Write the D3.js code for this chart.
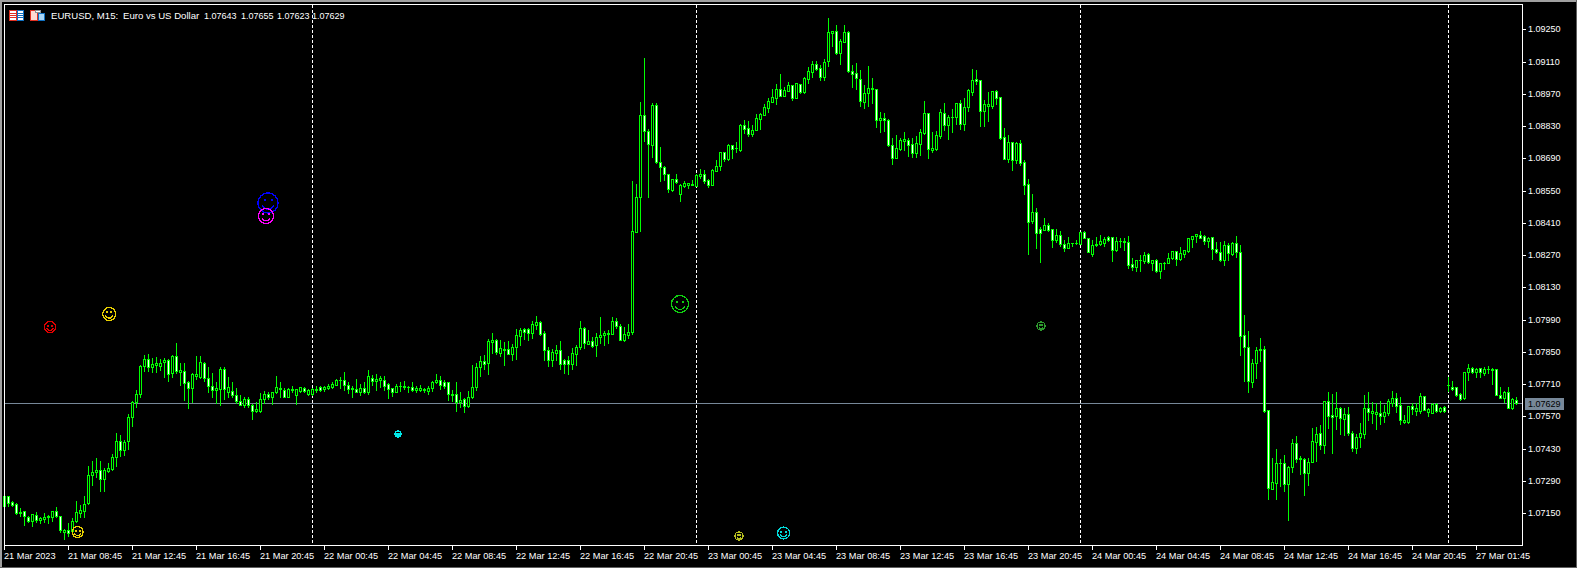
<!DOCTYPE html>
<html>
<head>
<meta charset="utf-8">
<script src="https://cdn.jsdelivr.net/npm/d3@7/dist/d3.min.js"></script>
<style>
html, body { margin: 0; padding: 0; background: #000; overflow: hidden; }
svg { display: block; }
text { font-family: "Liberation Sans", sans-serif; font-size: 9.2px; fill: #fff; }
</style>
</head>
<body>
<div id="chart"></div>
<script>
// EURUSD M15 candles, bar 0 is 21 Mar 2023 04:45
const opens = [
1.07182,1.07225,1.07199,1.07191,1.07151,1.07160,1.07134,1.07116,1.07143,1.07121,
1.07125,1.07134,1.07134,1.07160,1.07138,1.07069,1.07077,1.07073,1.07116,1.07151,
1.07160,1.07195,1.07316,1.07329,1.07338,1.07299,1.07333,1.07342,1.07394,1.07464,
1.07425,1.07464,1.07568,1.07632,1.07667,1.07789,1.07819,1.07785,1.07793,1.07789,
1.07806,1.07815,1.07759,1.07832,1.07763,1.07767,1.07720,1.07694,1.07746,1.07741,
1.07802,1.07737,1.07702,1.07685,1.07689,1.07776,1.07676,1.07680,1.07663,1.07637,
1.07619,1.07646,1.07619,1.07594,1.07594,1.07646,1.07667,1.07654,1.07676,1.07694,
1.07685,1.07654,1.07685,1.07663,1.07680,1.07694,1.07667,1.07667,1.07685,1.07698,
1.07689,1.07694,1.07698,1.07707,1.07728,1.07728,1.07707,1.07689,1.07689,1.07676,
1.07694,1.07676,1.07737,1.07724,1.07728,1.07728,1.07711,1.07694,1.07676,1.07702,
1.07698,1.07698,1.07698,1.07685,1.07685,1.07685,1.07680,1.07694,1.07720,1.07728,
1.07720,1.07720,1.07663,1.07667,1.07632,1.07646,1.07615,1.07654,1.07698,1.07785,
1.07811,1.07802,1.07893,1.07902,1.07845,1.07858,1.07863,1.07841,1.07871,1.07919,
1.07949,1.07949,1.07932,1.07967,1.07980,1.07932,1.07858,1.07815,1.07845,1.07858,
1.07815,1.07815,1.07798,1.07841,1.07871,1.07954,1.07884,1.07897,1.07880,1.07915,
1.07923,1.07928,1.07928,1.07984,1.07963,1.07902,1.07923,1.07936,1.08370,1.08522,
1.08878,1.08809,1.08748,1.08921,1.08674,1.08652,1.08622,1.08553,1.08600,1.08535,
1.08570,1.08574,1.08574,1.08570,1.08613,1.08622,1.08596,1.08574,1.08635,1.08657,
1.08717,1.08687,1.08748,1.08735,1.08726,1.08835,1.08822,1.08796,1.08813,1.08861,
1.08878,1.08908,1.08934,1.08952,1.08991,1.08960,1.08982,1.09008,1.08952,1.09013,
1.08978,1.09034,1.09065,1.09099,1.09082,1.09043,1.09112,1.09234,1.09243,1.09147,
1.09195,1.09238,1.09069,1.09060,1.09034,1.08934,1.08974,1.08995,1.08991,1.08856,
1.08865,1.08856,1.08748,1.08691,1.08730,1.08765,1.08770,1.08752,1.08713,1.08752,
1.08800,1.08887,1.08726,1.08730,1.08787,1.08887,1.08835,1.08869,1.08869,1.08930,
1.08839,1.08913,1.08978,1.09034,1.09030,1.08895,1.08917,1.08917,1.08982,1.08956,
1.08782,1.08687,1.08761,1.08683,1.08757,1.08674,1.08579,1.08418,1.08457,1.08383,
1.08379,1.08401,1.08383,1.08336,1.08357,1.08318,1.08301,1.08323,1.08323,1.08318,
1.08370,1.08344,1.08275,1.08314,1.08318,1.08323,1.08349,1.08349,1.08292,1.08331,
1.08331,1.08327,1.08232,1.08218,1.08249,1.08245,1.08275,1.08236,1.08249,1.08201,
1.08236,1.08236,1.08258,1.08288,1.08253,1.08275,1.08288,1.08340,1.08353,1.08357,
1.08353,1.08331,1.08349,1.08297,1.08284,1.08249,1.08314,1.08275,1.08323,1.08284,
1.07923,1.07871,1.07720,1.07802,1.07858,1.07863,1.07598,1.07255,1.07281,1.07368,
1.07368,1.07277,1.07351,1.07455,1.07390,1.07385,1.07325,1.07372,1.07459,1.07498,
1.07446,1.07637,1.07576,1.07572,1.07607,1.07559,1.07581,1.07498,1.07433,1.07481,
1.07494,1.07607,1.07585,1.07581,1.07585,1.07572,1.07585,1.07628,1.07650,1.07619,
1.07546,1.07546,1.07615,1.07594,1.07594,1.07659,1.07589,1.07585,1.07624,1.07594,
1.07611,1.07707,1.07698,1.07698,1.07667,1.07650,1.07763,1.07780,1.07763,1.07780,
1.07759,1.07776,1.07772,1.07776,1.07663,1.07650,1.07676,1.07607,1.07643];

const highs = [
1.07225,1.07225,1.07204,1.07195,1.07173,1.07160,1.07138,1.07147,1.07156,1.07134,
1.07151,1.07143,1.07160,1.07177,1.07138,1.07082,1.07108,1.07130,1.07204,1.07186,
1.07225,1.07355,1.07377,1.07390,1.07377,1.07346,1.07368,1.07407,1.07498,1.07490,
1.07468,1.07581,1.07637,1.07685,1.07793,1.07836,1.07841,1.07824,1.07828,1.07819,
1.07824,1.07819,1.07836,1.07889,1.07802,1.07802,1.07724,1.07759,1.07832,1.07832,
1.07806,1.07785,1.07759,1.07720,1.07785,1.07785,1.07741,1.07720,1.07694,1.07663,
1.07654,1.07654,1.07624,1.07632,1.07672,1.07680,1.07676,1.07676,1.07746,1.07720,
1.07694,1.07694,1.07702,1.07689,1.07698,1.07698,1.07689,1.07694,1.07702,1.07702,
1.07702,1.07711,1.07720,1.07733,1.07741,1.07763,1.07720,1.07702,1.07733,1.07711,
1.07720,1.07772,1.07750,1.07754,1.07746,1.07746,1.07715,1.07694,1.07711,1.07720,
1.07724,1.07702,1.07720,1.07702,1.07707,1.07694,1.07702,1.07724,1.07754,1.07746,
1.07728,1.07720,1.07685,1.07720,1.07676,1.07650,1.07680,1.07793,1.07802,1.07832,
1.07836,1.07906,1.07932,1.07906,1.07902,1.07893,1.07897,1.07884,1.07949,1.07954,
1.07954,1.07954,1.07984,1.08006,1.07984,1.07941,1.07871,1.07863,1.07880,1.07897,
1.07819,1.07832,1.07867,1.07880,1.07984,1.07958,1.07945,1.07915,1.07932,1.08002,
1.07941,1.07945,1.08002,1.07997,1.07971,1.07958,1.07971,1.08592,1.08579,1.08934,
1.09125,1.08817,1.08930,1.08930,1.08739,1.08657,1.08622,1.08600,1.08622,1.08579,
1.08592,1.08583,1.08596,1.08622,1.08644,1.08639,1.08600,1.08644,1.08683,1.08717,
1.08717,1.08752,1.08748,1.08761,1.08839,1.08856,1.08852,1.08835,1.08882,1.08887,
1.08926,1.08952,1.08991,1.09013,1.09056,1.09000,1.09021,1.09008,1.09017,1.09013,
1.09043,1.09086,1.09112,1.09112,1.09095,1.09121,1.09299,1.09243,1.09269,1.09208,
1.09269,1.09243,1.09095,1.09104,1.09073,1.09008,1.09091,1.09039,1.08991,1.08891,
1.08887,1.08861,1.08778,1.08791,1.08778,1.08804,1.08778,1.08778,1.08787,1.08817,
1.08939,1.08887,1.08804,1.08809,1.08904,1.08930,1.08878,1.08904,1.08930,1.08943,
1.08952,1.08991,1.09078,1.09073,1.09030,1.08943,1.08978,1.08982,1.08987,1.08956,
1.08822,1.08791,1.08761,1.08761,1.08770,1.08683,1.08600,1.08535,1.08474,1.08392,
1.08431,1.08409,1.08383,1.08383,1.08375,1.08336,1.08349,1.08323,1.08336,1.08370,
1.08375,1.08344,1.08336,1.08349,1.08357,1.08349,1.08353,1.08349,1.08349,1.08344,
1.08344,1.08353,1.08258,1.08249,1.08271,1.08284,1.08279,1.08249,1.08253,1.08236,
1.08240,1.08279,1.08288,1.08288,1.08305,1.08292,1.08344,1.08353,1.08362,1.08375,
1.08357,1.08349,1.08349,1.08327,1.08327,1.08331,1.08323,1.08327,1.08353,1.08314,
1.08010,1.07941,1.07819,1.07871,1.07910,1.07876,1.07598,1.07390,1.07429,1.07385,
1.07403,1.07355,1.07472,1.07485,1.07399,1.07390,1.07390,1.07520,1.07524,1.07533,
1.07637,1.07676,1.07667,1.07676,1.07611,1.07607,1.07611,1.07507,1.07494,1.07542,
1.07663,1.07676,1.07632,1.07628,1.07637,1.07619,1.07646,1.07680,1.07672,1.07654,
1.07576,1.07615,1.07628,1.07628,1.07672,1.07659,1.07607,1.07628,1.07628,1.07611,
1.07615,1.07741,1.07724,1.07698,1.07672,1.07763,1.07798,1.07785,1.07780,1.07780,
1.07785,1.07789,1.07780,1.07776,1.07698,1.07680,1.07698,1.07650,1.07655];

const lows = [
1.07182,1.07182,1.07182,1.07147,1.07138,1.07099,1.07112,1.07095,1.07112,1.07108,
1.07112,1.07108,1.07116,1.07134,1.07069,1.07038,1.07051,1.07064,1.07112,1.07134,
1.07134,1.07191,1.07273,1.07307,1.07247,1.07247,1.07329,1.07338,1.07355,1.07399,
1.07403,1.07429,1.07529,1.07611,1.07654,1.07767,1.07767,1.07763,1.07763,1.07772,
1.07741,1.07724,1.07741,1.07759,1.07707,1.07641,1.07607,1.07632,1.07733,1.07737,
1.07724,1.07676,1.07654,1.07628,1.07619,1.07646,1.07654,1.07654,1.07628,1.07619,
1.07611,1.07611,1.07559,1.07589,1.07589,1.07628,1.07646,1.07624,1.07672,1.07654,
1.07654,1.07654,1.07676,1.07624,1.07676,1.07676,1.07663,1.07663,1.07676,1.07680,
1.07680,1.07689,1.07694,1.07707,1.07694,1.07685,1.07672,1.07654,1.07676,1.07663,
1.07672,1.07667,1.07707,1.07685,1.07698,1.07685,1.07650,1.07659,1.07676,1.07680,
1.07689,1.07676,1.07680,1.07676,1.07680,1.07676,1.07667,1.07680,1.07715,1.07689,
1.07694,1.07641,1.07637,1.07594,1.07611,1.07589,1.07611,1.07650,1.07685,1.07746,
1.07776,1.07754,1.07845,1.07841,1.07832,1.07793,1.07841,1.07815,1.07819,1.07880,
1.07906,1.07902,1.07910,1.07949,1.07923,1.07815,1.07789,1.07789,1.07815,1.07776,
1.07759,1.07754,1.07776,1.07793,1.07863,1.07867,1.07884,1.07871,1.07832,1.07889,
1.07880,1.07889,1.07928,1.07954,1.07902,1.07897,1.07910,1.07928,1.08370,1.08375,
1.08765,1.08522,1.08696,1.08670,1.08592,1.08596,1.08544,1.08548,1.08583,1.08505,
1.08566,1.08561,1.08574,1.08570,1.08605,1.08583,1.08566,1.08574,1.08635,1.08639,
1.08678,1.08683,1.08691,1.08717,1.08722,1.08800,1.08787,1.08787,1.08813,1.08817,
1.08878,1.08891,1.08934,1.08926,1.08960,1.08960,1.08982,1.08943,1.08952,1.08974,
1.08974,1.09017,1.09043,1.09073,1.09030,1.09030,1.09091,1.09177,1.09143,1.09099,
1.09195,1.09065,1.09000,1.08991,1.08917,1.08908,1.08917,1.08930,1.08826,1.08804,
1.08809,1.08743,1.08665,1.08691,1.08726,1.08726,1.08700,1.08696,1.08696,1.08704,
1.08796,1.08691,1.08717,1.08726,1.08778,1.08813,1.08774,1.08804,1.08839,1.08817,
1.08813,1.08895,1.08965,1.09013,1.08830,1.08830,1.08852,1.08908,1.08926,1.08774,
1.08687,1.08674,1.08639,1.08670,1.08661,1.08535,1.08275,1.08409,1.08301,1.08240,
1.08379,1.08375,1.08305,1.08327,1.08310,1.08288,1.08301,1.08310,1.08318,1.08318,
1.08344,1.08284,1.08266,1.08310,1.08314,1.08310,1.08331,1.08245,1.08288,1.08305,
1.08292,1.08214,1.08205,1.08201,1.08201,1.08236,1.08236,1.08205,1.08197,1.08171,
1.08210,1.08236,1.08253,1.08227,1.08249,1.08262,1.08284,1.08305,1.08327,1.08344,
1.08318,1.08305,1.08253,1.08279,1.08245,1.08227,1.08249,1.08271,1.08262,1.07836,
1.07724,1.07676,1.07698,1.07737,1.07811,1.07589,1.07212,1.07255,1.07212,1.07268,
1.07247,1.07121,1.07329,1.07372,1.07320,1.07229,1.07273,1.07372,1.07377,1.07429,
1.07412,1.07520,1.07412,1.07516,1.07494,1.07490,1.07490,1.07420,1.07412,1.07437,
1.07476,1.07555,1.07542,1.07516,1.07537,1.07546,1.07576,1.07615,1.07589,1.07537,
1.07542,1.07542,1.07581,1.07576,1.07585,1.07598,1.07572,1.07585,1.07589,1.07589,
1.07589,1.07680,1.07685,1.07659,1.07641,1.07646,1.07728,1.07759,1.07741,1.07741,
1.07750,1.07759,1.07711,1.07663,1.07650,1.07632,1.07607,1.07602,1.07623];

const closes = [
1.07225,1.07195,1.07186,1.07151,1.07156,1.07138,1.07116,1.07147,1.07121,1.07130,
1.07134,1.07138,1.07160,1.07138,1.07077,1.07077,1.07064,1.07116,1.07156,1.07164,
1.07191,1.07316,1.07329,1.07338,1.07299,1.07338,1.07346,1.07394,1.07464,1.07425,
1.07459,1.07568,1.07632,1.07667,1.07789,1.07819,1.07785,1.07798,1.07802,1.07802,
1.07815,1.07754,1.07832,1.07767,1.07772,1.07715,1.07694,1.07754,1.07754,1.07806,
1.07737,1.07702,1.07685,1.07694,1.07776,1.07689,1.07698,1.07663,1.07637,1.07619,
1.07646,1.07619,1.07594,1.07602,1.07646,1.07667,1.07654,1.07676,1.07698,1.07689,
1.07654,1.07689,1.07689,1.07689,1.07698,1.07680,1.07685,1.07689,1.07689,1.07685,
1.07698,1.07702,1.07711,1.07728,1.07728,1.07707,1.07689,1.07694,1.07676,1.07694,
1.07676,1.07746,1.07724,1.07733,1.07737,1.07702,1.07689,1.07676,1.07702,1.07702,
1.07702,1.07698,1.07685,1.07694,1.07694,1.07689,1.07694,1.07720,1.07728,1.07707,
1.07702,1.07667,1.07667,1.07632,1.07641,1.07615,1.07654,1.07698,1.07785,1.07811,
1.07798,1.07897,1.07902,1.07850,1.07867,1.07863,1.07841,1.07871,1.07923,1.07945,
1.07936,1.07932,1.07971,1.07980,1.07928,1.07858,1.07815,1.07850,1.07858,1.07798,
1.07798,1.07798,1.07845,1.07871,1.07954,1.07889,1.07897,1.07876,1.07915,1.07923,
1.07932,1.07932,1.07984,1.07963,1.07902,1.07928,1.07936,1.08375,1.08522,1.08878,
1.08809,1.08752,1.08921,1.08674,1.08652,1.08622,1.08557,1.08600,1.08587,1.08574,
1.08583,1.08583,1.08579,1.08618,1.08622,1.08592,1.08574,1.08639,1.08657,1.08717,
1.08687,1.08748,1.08730,1.08735,1.08835,1.08817,1.08796,1.08813,1.08865,1.08882,
1.08913,1.08939,1.08956,1.08991,1.08960,1.08987,1.09008,1.08952,1.09017,1.08978,
1.09039,1.09069,1.09099,1.09078,1.09043,1.09108,1.09238,1.09243,1.09147,1.09199,
1.09238,1.09069,1.09056,1.09039,1.08939,1.08974,1.08995,1.08991,1.08856,1.08865,
1.08856,1.08748,1.08691,1.08735,1.08770,1.08774,1.08748,1.08713,1.08757,1.08804,
1.08887,1.08730,1.08735,1.08791,1.08891,1.08835,1.08869,1.08869,1.08930,1.08839,
1.08913,1.08987,1.09030,1.09026,1.08895,1.08926,1.08926,1.08982,1.08952,1.08778,
1.08687,1.08761,1.08683,1.08757,1.08670,1.08574,1.08414,1.08457,1.08366,1.08366,
1.08401,1.08379,1.08336,1.08357,1.08318,1.08301,1.08323,1.08323,1.08323,1.08370,
1.08344,1.08284,1.08314,1.08318,1.08331,1.08340,1.08336,1.08292,1.08331,1.08331,
1.08327,1.08227,1.08218,1.08249,1.08249,1.08271,1.08240,1.08249,1.08201,1.08236,
1.08236,1.08258,1.08288,1.08253,1.08279,1.08292,1.08344,1.08353,1.08362,1.08344,
1.08331,1.08344,1.08297,1.08284,1.08249,1.08314,1.08279,1.08323,1.08284,1.07919,
1.07871,1.07724,1.07802,1.07858,1.07863,1.07594,1.07260,1.07286,1.07368,1.07368,
1.07277,1.07351,1.07455,1.07385,1.07385,1.07325,1.07372,1.07464,1.07494,1.07446,
1.07637,1.07572,1.07568,1.07607,1.07563,1.07581,1.07498,1.07433,1.07481,1.07498,
1.07607,1.07589,1.07594,1.07589,1.07572,1.07589,1.07637,1.07650,1.07615,1.07555,
1.07555,1.07615,1.07602,1.07607,1.07659,1.07598,1.07602,1.07624,1.07594,1.07607,
1.07594,1.07707,1.07689,1.07663,1.07646,1.07763,1.07780,1.07763,1.07776,1.07763,
1.07776,1.07776,1.07776,1.07663,1.07650,1.07676,1.07607,1.07646,1.07629];

const priceTicks = [1.0925, 1.0911, 1.0897, 1.0883, 1.0869, 1.0855, 1.0841, 1.0827, 1.0813, 1.0799, 1.0785, 1.0771, 1.0757, 1.0743, 1.0729, 1.0715];
const timeTickBars = [0, 16, 32, 48, 64, 80, 96, 112, 128, 144, 160, 176, 192, 208, 224, 240, 256, 272, 288, 304, 320, 336, 352, 368];
const timeTickLabels = ["21 Mar 2023", "21 Mar 08:45", "21 Mar 12:45", "21 Mar 16:45", "21 Mar 20:45", "22 Mar 00:45", "22 Mar 04:45", "22 Mar 08:45", "22 Mar 12:45", "22 Mar 16:45", "22 Mar 20:45", "23 Mar 00:45", "23 Mar 04:45", "23 Mar 08:45", "23 Mar 12:45", "23 Mar 16:45", "23 Mar 20:45", "24 Mar 00:45", "24 Mar 04:45", "24 Mar 08:45", "24 Mar 12:45", "24 Mar 16:45", "24 Mar 20:45", "27 Mar 01:45"];
const separatorBars = [77, 173, 269, 361];
const currentPrice = 1.07629;
const titleParts = ["EURUSD, M15:", "Euro vs US Dollar", "1.07643", "1.07655", "1.07623", "1.07629"];

// smiley objects placed on the chart: bar position and price
const smileyBars = [11.5, 26.3, 66, 65.5, 169, 18.4, 98.5, 183.75, 194.9, 259.25];
const smileyPrices = [1.07958, 1.08013, 1.08497, 1.08441, 1.08057, 1.07067, 1.07492, 1.07051, 1.07064, 1.07962];

// styles
const smileyRadius = [5.5, 6.5, 10, 7.5, 8.5, 5.5, 3, 4, 6, 4];
const smileyColors = ["#e00000", "#e8d000", "#0000ff", "#ff00ff", "#10d010", "#e8d000", "#00e8e8", "#b8c020", "#00d8d8", "#2e9a2e"];
const titleX = [51, 123, 204, 241, 277, 312];
const titleSizes = [9.6, 9.6, 9, 9, 9, 9];
const candleGreen = "#00ff00";
const frameGray = "#a0a0a0";
const priceLineColor = "#778899";

const width = 1577, height = 568;
const plotLeft = 4, plotRight = 1522, plotTop = 4, plotBottom = 545;

const svg = d3.select("#chart")
    .append("svg")
    .attr("width", width)
    .attr("height", height);

svg.append("rect").attr("width", width).attr("height", height).attr("fill", "#000");

// bar index to pixel column, price to pixel row
const x = d3.scaleLinear().domain([0, opens.length - 1]).range([4, 1516]);
const y = d3.scaleLinear().domain([1.0715, 1.0925]).rangeRound([513.3, 29.3]);

// window frame
svg.append("rect").attr("width", width).attr("height", 2).attr("fill", frameGray);
svg.append("rect").attr("width", 2).attr("height", height).attr("fill", frameGray);
svg.append("rect").attr("x", width - 1).attr("width", 1).attr("height", height).attr("fill", "#606060");
svg.append("rect").attr("y", height - 1).attr("width", width).attr("height", 1).attr("fill", "#606060");

// period separators, behind the candles
svg.selectAll(".sep")
    .data(separatorBars)
    .join("line")
    .attr("class", "sep")
    .attr("x1", d => x(d) + 0.5)
    .attr("x2", d => x(d) + 0.5)
    .attr("y1", plotTop + 1)
    .attr("y2", plotBottom)
    .attr("stroke", "#fff")
    .attr("stroke-dasharray", "3,2")
    .attr("shape-rendering", "crispEdges");

// current price line
const priceRow = Math.floor(y.copy().range([513.3, 29.3])(currentPrice));
svg.append("line")
    .attr("x1", plotLeft)
    .attr("x2", plotRight)
    .attr("y1", priceRow + 0.5)
    .attr("y2", priceRow + 0.5)
    .attr("stroke", priceLineColor)
    .attr("shape-rendering", "crispEdges");

// candles: wick, green body, then inner fill (white when falling, black when rising)
const candles = svg.append("g").attr("shape-rendering", "crispEdges");
const idx = d3.range(opens.length);

candles.selectAll(".wick")
    .data(idx)
    .join("rect")
    .attr("class", "wick")
    .attr("x", i => x(i))
    .attr("y", i => y(highs[i]))
    .attr("width", 1)
    .attr("height", i => y(lows[i]) - y(highs[i]) + 1)
    .attr("fill", candleGreen);

candles.selectAll(".body")
    .data(idx)
    .join("rect")
    .attr("class", "body")
    .attr("x", i => x(i) - 1)
    .attr("y", i => y(Math.max(opens[i], closes[i])))
    .attr("width", 3)
    .attr("height", i => y(Math.min(opens[i], closes[i])) - y(Math.max(opens[i], closes[i])) + 1)
    .attr("fill", candleGreen);

candles.selectAll(".inner")
    .data(idx.filter(i => y(Math.min(opens[i], closes[i])) - y(Math.max(opens[i], closes[i])) > 1))
    .join("rect")
    .attr("class", "inner")
    .attr("x", i => x(i))
    .attr("y", i => y(Math.max(opens[i], closes[i])) + 1)
    .attr("width", 1)
    .attr("height", i => y(Math.min(opens[i], closes[i])) - y(Math.max(opens[i], closes[i])) - 1)
    .attr("fill", i => closes[i] < opens[i] ? "#fff" : "#000");

// smileys, aliased like the original objects
const smileys = svg.selectAll(".smiley")
    .data(d3.range(smileyBars.length))
    .join("g")
    .attr("class", "smiley")
    .attr("transform", i => `translate(${x(smileyBars[i])}, ${y(smileyPrices[i])})`)
    .attr("fill", "none")
    .attr("stroke", i => smileyColors[i])
    .attr("shape-rendering", "crispEdges");

smileys.append("circle")
    .attr("r", i => smileyRadius[i])
    .attr("stroke-width", 1.3);

smileys.append("path")
    .attr("stroke-width", 1.2)
    .attr("d", i => {
        const r = smileyRadius[i] * 0.58;
        const p = d3.path();
        p.arc(0, smileyRadius[i] * 0.05, r, 0.08 * Math.PI, 0.92 * Math.PI);
        return p.toString();
    });

[-1, 1].forEach(side => {
    smileys.append("rect")
        .attr("x", i => side * smileyRadius[i] * 0.35 - 1)
        .attr("y", i => -smileyRadius[i] * 0.4)
        .attr("width", 2)
        .attr("height", 2)
        .attr("fill", i => smileyColors[i])
        .attr("stroke", "none");
});

// plot border
svg.append("rect")
    .attr("x", plotLeft + 0.5)
    .attr("y", plotTop + 0.5)
    .attr("width", plotRight - plotLeft)
    .attr("height", plotBottom - plotTop)
    .attr("fill", "none")
    .attr("stroke", "#fff")
    .attr("shape-rendering", "crispEdges");

// price axis
const yAxis = svg.append("g")
    .attr("transform", `translate(${plotRight}, 0)`)
    .call(d3.axisRight(y).tickValues(priceTicks).tickFormat(d3.format(".5f")).tickSize(4).tickPadding(2));
yAxis.select(".domain").remove();
yAxis.selectAll("line").attr("stroke", "#fff").attr("shape-rendering", "crispEdges");
yAxis.selectAll("text").attr("fill", "#fff").style("font-size", "9px");

// time axis
const xAxis = svg.append("g")
    .attr("transform", `translate(0, ${plotBottom})`)
    .call(d3.axisBottom(x).tickValues(timeTickBars).tickFormat((d, i) => timeTickLabels[i]).tickSize(5).tickPadding(2));
xAxis.select(".domain").remove();
xAxis.selectAll("line").attr("stroke", "#fff").attr("shape-rendering", "crispEdges");
xAxis.selectAll("text")
    .attr("fill", "#fff")
    .attr("text-anchor", "start")
    .attr("x", -0.5)
    .style("font-size", "9.2px");

// current price label
svg.append("rect")
    .attr("x", 1525)
    .attr("y", priceRow - 5)
    .attr("width", 39)
    .attr("height", 12)
    .attr("fill", priceLineColor);
svg.append("text")
    .attr("x", 1528)
    .attr("y", priceRow + 4)
    .style("fill", "#000")
    .style("font-size", "9px")
    .text(d3.format(".5f")(currentPrice));

// title
svg.selectAll(".title")
    .data(titleParts)
    .join("text")
    .attr("class", "title")
    .attr("x", (d, i) => titleX[i])
    .attr("y", 19)
    .style("font-size", (d, i) => titleSizes[i] + "px")
    .text(d => d);

// toolbar icons next to the title
const icons = svg.append("g").attr("shape-rendering", "crispEdges");
function iconRect(px, py, w, h, fill) {
    icons.append("rect").attr("x", px).attr("y", py).attr("width", w).attr("height", h).attr("fill", fill);
}
iconRect(9, 10, 8, 11, "#e03020");
iconRect(17, 10, 7, 11, "#1070c0");
iconRect(10, 11, 6, 9, "#fff");
iconRect(18, 11, 5, 9, "#fff");
[13, 15, 17].forEach(r => {
    iconRect(10, r, 6, 1, "#e03020");
    iconRect(18, r, 5, 1, "#1070c0");
});
iconRect(30, 10, 8, 11, "#e03020");
iconRect(31, 11, 6, 9, "#ffd8d0");
iconRect(38, 13, 7, 8, "#1070c0");
iconRect(39, 14, 5, 6, "#a8d4f4");
iconRect(35, 10, 6, 3, "#909090");
iconRect(36, 11, 4, 1, "#fff");
</script>
</body>
</html>
